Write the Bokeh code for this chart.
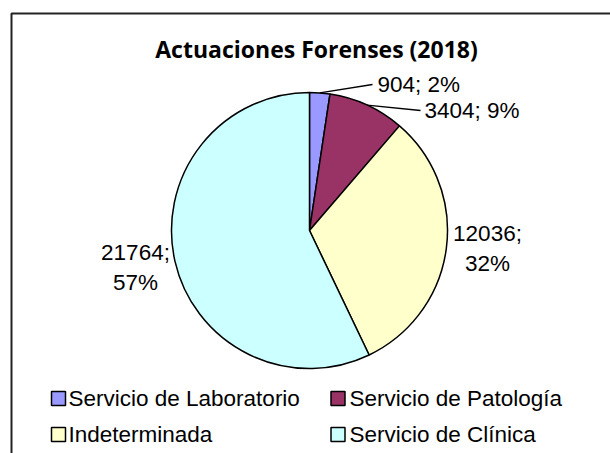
import math
from bokeh.plotting import figure
from bokeh.models import Range1d, ColumnDataSource
from bokeh.core.properties import value
from bokeh.embed import file_html
from bokeh.resources import INLINE

# ---- data ----
title = "Actuaciones Forenses (2018)"
categories = ["Servicio de Laboratorio", "Servicio de Patología", "Indeterminada", "Servicio de Clínica"]
counts = [904, 3404, 12036, 21764]
colors = ["#9999FF", "#993366", "#FFFFCC", "#CCFFFF"]

# ---- layout constants (figure pixel coords, y up) ----
W, H = 610, 453
CX, CY, R = 309, 223, 138
FONT = "Liberation Sans"
LABEL_SIZE = "22.5px"

p = figure(width=W, height=H, output_backend="svg", toolbar_location=None,
           x_range=Range1d(0, W), y_range=Range1d(0, H),
           x_axis_location=None, y_axis_location=None,
           min_border=0, min_border_left=0, min_border_right=0,
           min_border_top=0, min_border_bottom=0)
p.grid.visible = False
p.outline_line_color = None
p.background_fill_color = "white"
p.border_fill_color = "white"

# frame (cut off at right/bottom like the reference)
p.quad(left=[11], right=[W + 50], top=[440], bottom=[-50],
       fill_color=None, line_color="#222222", line_width=2)

# title
p.text(x=[316], y=[405], text=[title], text_font=value("Open Sans"),
       text_font_style="bold", text_font_size="23px", text_align="center",
       text_baseline="middle", text_color="black")

# wedges
total = sum(counts)
starts, ends, mids = [], [], []
acc = 0
for c in counts:
    s = math.pi / 2 - 2 * math.pi * acc / total
    acc += c
    e = math.pi / 2 - 2 * math.pi * acc / total
    starts.append(s)
    ends.append(e)
    mids.append((s + e) / 2)

src = ColumnDataSource(dict(x=[CX] * 4, y=[CY] * 4, start=starts, end=ends, color=colors))
p.wedge(x="x", y="y", radius=R, radius_units="screen", start_angle="start", end_angle="end",
        direction="clock", fill_color="color", line_color="black", line_width=1.5, source=src)

# data labels
pcts = [round(100 * c / total) for c in counts]
lab_text = [f"{c}; {q}%" for c, q in zip(counts, pcts)]

# small slices: single-line label with leader line
leader_end = {0: (372, 369), 1: (420, 343)}
label_pos = {0: (377, 369), 1: (424, 343)}
for i in (0, 1):
    mx = CX + R * math.cos(mids[i])
    my = CY + R * math.sin(mids[i])
    ex, ey = leader_end[i]
    p.line(x=[mx, ex], y=[my, ey], line_color="black", line_width=1.3)
    lx, ly = label_pos[i]
    p.text(x=[lx], y=[ly], text=[lab_text[i]], text_font=value(FONT),
           text_font_size=LABEL_SIZE, text_align="left", text_baseline="middle",
           text_color="black")

# large slices: two-line labels
two_line_pos = {2: (487, 220, 190), 3: (135, 201, 171)}
for i, (lx, y1, y2) in two_line_pos.items():
    first, second = lab_text[i].split(" ")
    p.text(x=[lx, lx], y=[y1, y2], text=[first, second], text_font=value(FONT),
           text_font_size=LABEL_SIZE, text_align="center", text_baseline="middle",
           text_color="black")

# legend (manual, 2 columns)
leg_sq_x = [58, 337.5, 58, 337.5]
leg_txt_x = [68, 349, 68, 349]
leg_y = [55, 55, 19, 19]
p.rect(x=leg_sq_x, y=leg_y, width=14, height=14, width_units="screen", height_units="screen",
       fill_color=colors, line_color="black", line_width=1.5)
p.text(x=leg_txt_x, y=leg_y, text=categories, text_font=value(FONT),
       text_font_size=LABEL_SIZE, text_align="left", text_baseline="middle",
       text_color="black")

open("out.html", "w").write(file_html(p, INLINE))
